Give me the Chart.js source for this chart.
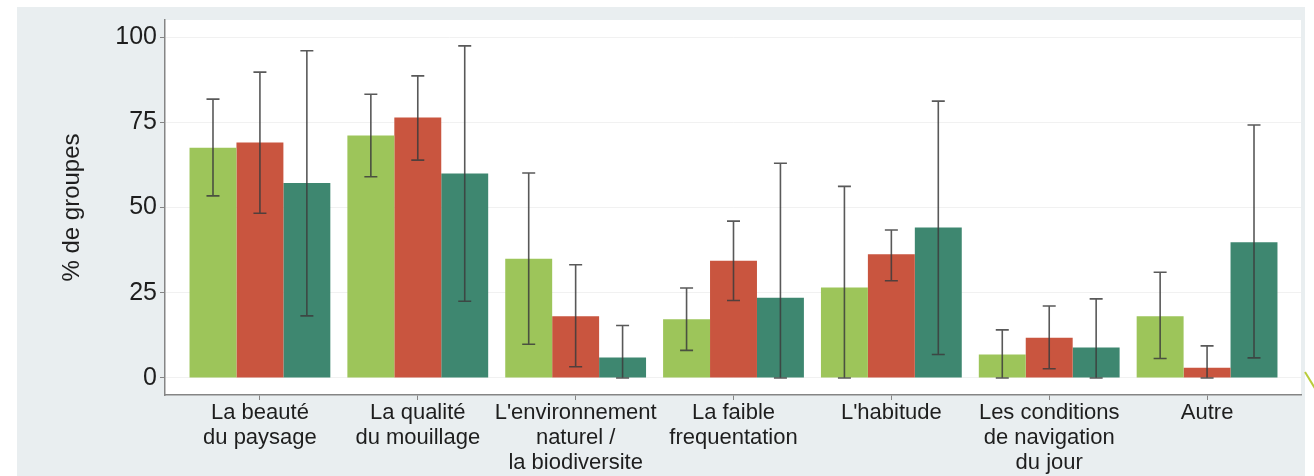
<!DOCTYPE html>
<html>
<head>
<meta charset="utf-8">
<script src="https://cdn.jsdelivr.net/npm/chart.js@4/dist/chart.umd.min.js"></script>
<style>
  body { margin: 0; background: #ffffff; }
  #wrap { width: 1314px; height: 476px; }
</style>
</head>
<body>
<div id="wrap"><canvas id="chart" width="1314" height="476"></canvas></div>
<script>
const categories = [
  ['La beauté', 'du paysage'],
  ['La qualité', 'du mouillage'],
  ["L'environnement", 'naturel /', 'la biodiversite'],
  ['La faible', 'frequentation'],
  ["L'habitude"],
  ['Les conditions', 'de navigation', 'du jour'],
  ['Autre']
];
const yTicks = [0, 25, 50, 75, 100];

// three groups: value, lower and upper bound of the interval
const green   = [67.5, 71.1, 35.0, 17.2, 26.5, 6.9, 18.1];
const greenLo = [53.4, 59.0, 9.9, 8.1, 0, 0, 5.7];
const greenHi = [81.8, 83.2, 60.1, 26.4, 56.2, 14.1, 31.0];
const red     = [69.1, 76.4, 18.1, 34.4, 36.3, 11.8, 3.0];
const redLo   = [48.3, 63.9, 3.3, 22.7, 28.5, 2.7, 0];
const redHi   = [89.7, 88.6, 33.2, 46.0, 43.4, 21.1, 9.4];
const teal    = [57.2, 60.0, 6.0, 23.5, 44.1, 8.9, 39.8];
const tealLo  = [18.2, 22.5, 0, 0, 6.9, 0, 5.9];
const tealHi  = [96.0, 97.4, 15.4, 63.0, 81.2, 23.2, 74.2];

const lows = [greenLo, redLo, tealLo];
const highs = [greenHi, redHi, tealHi];

const axisGrey = '#858585';

// page background, slide frame and white plot area
const backdrop = {
  id: 'backdrop',
  beforeDraw(chart) {
    const { ctx, chartArea: a } = chart;
    ctx.save();
    ctx.fillStyle = '#ffffff';
    ctx.fillRect(0, 0, chart.width, chart.height);
    ctx.fillStyle = '#e9eef0';
    ctx.fillRect(17, 7, 1288, chart.height - 7);
    ctx.fillStyle = '#ffffff';
    ctx.fillRect(a.left, a.top, a.right - a.left, a.bottom - a.top);
    ctx.strokeStyle = '#b9cc3a';
    ctx.lineWidth = 2;
    ctx.beginPath();
    ctx.moveTo(1305, 372);
    ctx.lineTo(1316, 390);
    ctx.stroke();
    ctx.restore();
  }
};

// inner margin of the category axis inside the plot region
const innerMargin = {
  id: 'innerMargin',
  afterLayout(chart) {
    const x = chart.scales.x;
    x._startPixel = x.left + 16;
    x._endPixel = x.right - 15;
    x._length = x._endPixel - x._startPixel;
  }
};

const errorBars = {
  id: 'errorBars',
  afterDatasetsDraw(chart) {
    const { ctx } = chart;
    const y = chart.scales.y;
    ctx.save();
    ctx.strokeStyle = 'rgba(60,60,60,0.85)';
    ctx.lineWidth = 1.6;
    chart.data.datasets.forEach((ds, i) => {
      chart.getDatasetMeta(i).data.forEach((bar, j) => {
        const top = y.getPixelForValue(highs[i][j]);
        const bottom = y.getPixelForValue(lows[i][j]);
        ctx.beginPath();
        ctx.moveTo(bar.x, top);
        ctx.lineTo(bar.x, bottom);
        ctx.moveTo(bar.x - 6.5, top);
        ctx.lineTo(bar.x + 6.5, top);
        ctx.moveTo(bar.x - 6.5, bottom);
        ctx.lineTo(bar.x + 6.5, bottom);
        ctx.stroke();
      });
    });
    ctx.restore();
  }
};

new Chart(document.getElementById('chart'), {
  type: 'bar',
  data: {
    labels: categories,
    datasets: [
      { label: 'Groupe 1', data: green, backgroundColor: '#9dc55a' },
      { label: 'Groupe 2', data: red, backgroundColor: '#c9553f' },
      { label: 'Groupe 3', data: teal, backgroundColor: '#3e8770' }
    ]
  },
  options: {
    responsive: false,
    animation: false,
    layout: { padding: { left: 0, top: 20, right: 13, bottom: 0 } },
    datasets: { bar: { barPercentage: 1, categoryPercentage: 0.892, borderWidth: 0 } },
    plugins: { legend: { display: false }, tooltip: { enabled: false } },
    scales: {
      x: {
        afterFit(s) { s.height = 81; },
        grid: { display: true, drawOnChartArea: false, offset: false, tickLength: 5, tickColor: axisGrey },
        border: { display: true, color: axisGrey, width: 1.5 },
        ticks: {
          color: '#1e1e1e', padding: 0, maxRotation: 0, autoSkip: false,
          font: { family: 'Liberation Sans, Arial, sans-serif', size: 22, lineHeight: 1.15 }
        }
      },
      y: {
        min: -5,
        max: 105,
        afterFit(s) { s.width = 165; },
        afterBuildTicks(s) { s.ticks = yTicks.map(v => ({ value: v })); },
        grid: { color: '#f1f1f1', lineWidth: 1, tickLength: 5, tickColor: axisGrey },
        border: { display: true, color: axisGrey, width: 1.5 },
        ticks: {
          color: '#1e1e1e', padding: 3,
          font: { family: 'Liberation Sans, Arial, sans-serif', size: 25 }
        },
        title: {
          display: true,
          text: '% de groupes',
          color: '#1e1e1e',
          padding: { top: 58, bottom: 0 },
          font: { family: 'Liberation Sans, Arial, sans-serif', size: 24 }
        }
      }
    }
  },
  plugins: [backdrop, innerMargin, errorBars]
});
</script>
</body>
</html>
